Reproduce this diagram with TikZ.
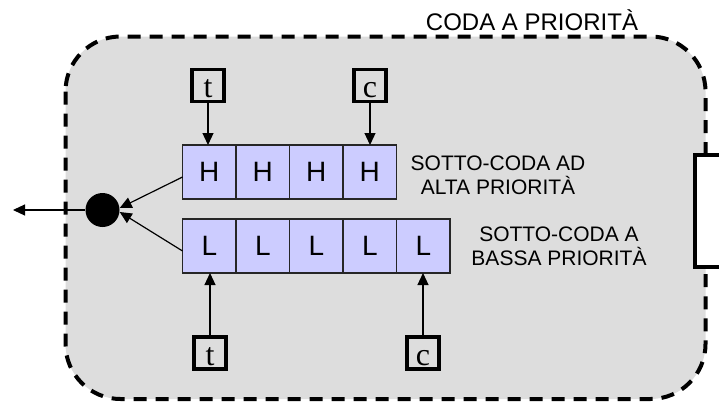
\documentclass[tikz,border=0pt]{standalone}
\usepackage{fontspec}
\setmainfont{Liberation Serif}
\setsansfont{Liberation Sans}
\usetikzlibrary{arrows.meta}
\definecolor{bggray}{RGB}{221,221,221}
\definecolor{cellblue}{RGB}{204,204,255}
\tikzset{
  cell/.style={draw=black!85, line width=1.3pt, fill=cellblue, minimum width=53.5pt, minimum height=54pt, inner sep=0pt, outer sep=0pt, font=\sffamily\fontsize{28}{30}\selectfont},
  ptr/.style={draw=black, line width=3.5pt, fill=bggray, minimum width=32pt, minimum height=32pt, inner sep=0pt, text height=25pt, text depth=1pt, font=\rmfamily\fontsize{32}{34}\selectfont},
  lab/.style={align=center, anchor=base, font=\sffamily\fontsize{21}{24}\selectfont},
  arr/.style={line width=1.2pt, -{Triangle[length=12pt,width=11pt]}},
}
\begin{document}
\begin{tikzpicture}[x=1pt,y=-1pt]
\useasboundingbox (0,0) rectangle (719,402);
% container
\draw[line width=4pt, dash pattern=on 13pt off 9pt, fill=bggray, rounded corners=55pt] (65.5,36.5) rectangle (705.5,399);
\node[font=\sffamily\fontsize{24}{26}\selectfont, anchor=base] (title) at (532,30) {CODA A PRIORITÀ};
% right partial box
\draw[line width=3.5pt, fill=white] (695,155) rectangle (740,267);
% high priority row
\node[cell] (h1) at (209.3,172) {H};
\node[cell, anchor=west] (h2) at (h1.east) {H};
\node[cell, anchor=west] (h3) at (h2.east) {H};
\node[cell, anchor=west] (h4) at (h3.east) {H};
% low priority row
\node[cell] (l1) at (209.3,246) {L};
\node[cell, anchor=west] (l2) at (l1.east) {L};
\node[cell, anchor=west] (l3) at (l2.east) {L};
\node[cell, anchor=west] (l4) at (l3.east) {L};
\node[cell, anchor=west] (l5) at (l4.east) {L};
% labels (base = baseline of the last line)
\node[lab] (hl) at (498,194) {SOTTO-CODA AD\\ALTA PRIORITÀ};
\node[lab] (ll) at (559,265) {SOTTO-CODA A\\BASSA PRIORITÀ};
% pointers
\node[ptr] (ht) at (208,85.5) {t};
\node[ptr] (hc) at (370,85.5) {c};
\node[ptr] (lt) at (210,353) {t};
\node[ptr] (lc) at (423,353) {c};
\draw[arr] (ht.south) -- (ht.south |- h1.north);
\draw[arr] (hc.south) -- (hc.south |- h4.north);
\draw[arr] (lt.north) -- (lt.north |- l1.south);
\draw[arr] (lc.north) -- (lc.north |- l5.south);
% merge point
\node[circle, fill=black, minimum size=34pt, inner sep=0pt] (dot) at (102.5,210) {};
\coordinate (out) at (13,210);
\draw[arr] (dot.west) -- (out);
\draw[arr] ([yshift=-5pt]h1.west) -- ([yshift=2pt]dot.east);
\draw[arr] ([yshift=-5pt]l1.west) -- ([yshift=-2pt]dot.east);
\end{tikzpicture}
\end{document}
